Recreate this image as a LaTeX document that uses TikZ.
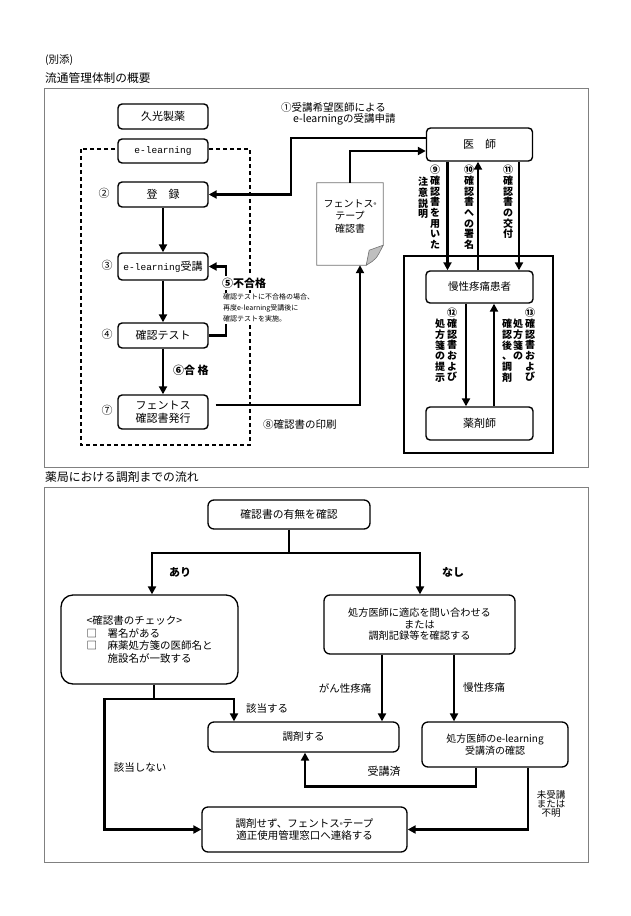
\documentclass[tikz,border=0pt]{standalone}
\usepackage{fontspec}
\setmainfont{Noto Sans CJK JP}
\newfontfamily\monof{Liberation Mono}
\usetikzlibrary{arrows.meta}
\newcommand{\fs}[2]{\fontsize{#1}{#2}\selectfont}
\newcommand{\regm}{{\fontsize{6}{6}\selectfont ®}}
\begin{document}
\begin{tikzpicture}[x=1pt,y=-1pt,
  box/.style={draw,line width=1.4pt,rounded corners=4pt,fill=white,inner sep=0pt,align=center,font=\fs{11}{12.5}},
  rbox/.style={draw,line width=1.3pt,rounded corners=6pt,fill=white,inner sep=0pt,align=center,font=\fs{10.5}{12}},
  conn/.style={line width=2.4pt},
  arr/.style={line width=2.4pt,-{Triangle[width=8pt,length=8pt]}},
  lbl/.style={inner sep=0pt,font=\fs{10.5}{12}},
  blbl/.style={inner sep=0pt,font=\bfseries\fs{11}{12}},
  num/.style={inner sep=0pt,font=\fs{11}{12}},
  vlbl/.style={inner sep=0pt,anchor=north,align=center,font=\bfseries\fs{10}{10.7}},
  frame/.style={draw=black!50,line width=1pt}]
\fill[white] (0,0) rectangle (630,916);
\useasboundingbox (0,0) rectangle (630,916);

% headers
\node[lbl,anchor=west,font=\fs{10.5}{12}] (h0) at (45,60) {(別添)};
\node[lbl,anchor=west,font=\fs{11.7}{13}] (h1) at (45,78) {流通管理体制の概要};
\node[lbl,anchor=west,font=\fs{11.8}{13}] (h2) at (45,477) {薬局における調剤までの流れ};

% frames
\draw[frame] (44,88) rectangle (588,467);
\draw[frame] (44,487) rectangle (588,862);

% dashed e-learning area and pharmacy area
\draw[line width=1.3pt,dash pattern=on 4pt off 3pt] (81,149) rectangle (250,445);
\draw[line width=1.4pt] (404,256) rectangle (553,453);

% ---------- top part ----------
\node[box,minimum width=90,minimum height=25] (kuko) at (163,116.5) {久光製薬};
\node[box,minimum width=90,minimum height=24] (elrn) at (163,151) {{\monof\fs{9.5}{11}e-learning}};
\node[box,minimum width=90,minimum height=25] (toroku) at (163,194.5) {登　録};
\node[box,minimum width=90,minimum height=27] (juko) at (163,266.5) {{\monof\fs{9.5}{11}e-learning}受講};
\node[box,minimum width=90,minimum height=25] (test) at (163,335.5) {確認テスト};
\node[box,minimum width=90,minimum height=34] (hakko) at (163,412) {フェントス\\確認書発行};
\node[box,minimum width=106,minimum height=33] (ishi) at (479.5,144.5) {医　師};
\node[box,minimum width=107,minimum height=32,font=\fs{10.5}{12}] (kanja) at (479.5,287) {慢性疼痛患者};
\node[box,minimum width=107,minimum height=33] (yaku) at (479.5,423.5) {薬剤師};

% loop connector (drawn before its label, which interrupts it)
\draw[arr] (test.east) -- ++(17,0) |- (juko.east);

% document shape
\node[inner sep=0pt,minimum width=66,minimum height=82] (doc) at (350,224) {};
\draw[draw=black!55,line width=0.8pt,fill=white] (doc.north west) -- (doc.north east)
  -- ([shift={(0,-20)}]doc.south east) -- ([shift={(-17,0)}]doc.south east) -- (doc.south west) -- cycle;
\draw[draw=black!55,line width=0.6pt,fill=black!25] ([shift={(0,-20)}]doc.south east)
  -- ([shift={(-14,-15)}]doc.south east) -- ([shift={(-17,0)}]doc.south east)
  .. controls ([shift={(-7,-6)}]doc.south east) .. ([shift={(0,-20)}]doc.south east);
\node[inner sep=0pt,align=center,font=\fs{10}{12.5}] (doctext) at (350,216.5) {フェントス\regm\\テープ\\確認書};

% numbers
\node[num] (n2) at (104,193) {②};
\node[num] (n3) at (107,265) {③};
\node[num] (n4) at (107,334) {④};
\node[num] (n7) at (107,410) {⑦};

% labels top
\node[lbl,anchor=west] (t1a) at (281,108) {①受講希望医師による};
\node[lbl,anchor=west] (t1b) at (293,119.5) {e-learningの受講申請};
\node[blbl,anchor=west,fill=white,inner ysep=2pt,inner xsep=1pt] (t5) at (221,283) {⑤不合格};
\node[inner sep=1pt,fill=white,anchor=north west,align=left,font=\fs{7}{11.2}] (t5s) at (222,292.5) {確認テストに不合格の場合、\\再度e-learning受講後に\\確認テストを実施。};
\node[blbl] (t6) at (191,370) {⑥合 格};
\node[lbl,anchor=west] (t8) at (263,425) {⑧確認書の印刷};

% vertical labels
\node[vlbl] (t9a) at (435,165) {⑨\\確\\認\\書\\を\\用\\い\\た};
\node[vlbl] (t9b) at (423,177) {注\\意\\説\\明};
\node[vlbl] (t10) at (469,165) {⑩\\確\\認\\書\\へ\\の\\署\\名};
\node[vlbl] (t11) at (508,165) {⑪\\確\\認\\書\\の\\交\\付};
\node[vlbl] (t12a) at (452,308) {⑫\\確\\認\\書\\お\\よ\\び};
\node[vlbl] (t12b) at (440,319) {処\\方\\箋\\の\\提\\示};
\node[vlbl] (t13a) at (530,308) {⑬\\確\\認\\書\\お\\よ\\び};
\node[vlbl] (t13b) at (518,319) {処\\方\\箋\\の};
\node[vlbl] (t13c) at (507,319) {確\\認\\後\\、\\調\\剤};

% connectors top
\draw[arr] (toroku.south) -- (juko.north);
\draw[arr] (juko.south) -- (test.north);
\draw[arr] (test.south) -- (hakko.north);
\draw[arr] ([shift={(7,-7)}]hakko.east) -| ([xshift=10pt]doc.south);
\draw[arr] (doc.north) |- ([shift={(0,6.5)}]ishi.west);
\draw[arr] ([shift={(0,-6.5)}]ishi.west) -| ([xshift=82pt]toroku.east) -- (toroku.east);
\draw[arr] ([xshift=-32pt]ishi.south) -- ([xshift=-32pt]kanja.north);
\draw[arr] ([xshift=-1.5pt]kanja.north) -- ([xshift=-1.5pt]ishi.south);
\draw[arr] ([xshift=39.5pt]ishi.south) -- ([xshift=39.5pt]kanja.north);
\draw[arr] ([xshift=-13.5pt]kanja.south) -- ([xshift=-13.5pt]yaku.north);
\draw[arr] ([xshift=14.5pt]yaku.north) -- ([xshift=14.5pt]kanja.south);

% ---------- bottom part ----------
\node[rbox,minimum width=162,minimum height=29,font=\fs{10.8}{12}] (umu) at (289,514.5) {確認書の有無を確認};
\node[rbox,rounded corners=12pt,minimum width=177,minimum height=89,align=left,font=\fs{10.5}{12.8}] (check) at (149.5,639.5)
  {<確認書のチェック>\\□　署名がある\\□　麻薬処方箋の医師名と\\　　施設名が一致する};
\node[rbox,minimum width=191,minimum height=59,font=\fs{10.2}{11.6}] (toi) at (419.5,624.5)
  {処方医師に適応を問い合わせる\\または\\調剤記録等を確認する};
\node[rbox,minimum width=191,minimum height=30] (chozai) at (303.5,737) {調剤する};
\node[rbox,minimum width=146,minimum height=45,font=\fs{10}{11.5}] (elc) at (495,744.5)
  {処方医師のe-learning\\受講済の確認};
\node[rbox,minimum width=205,minimum height=45,font=\fs{10.5}{12}] (sezu) at (304.5,829.5)
  {調剤せず、フェントス\regm テープ\\適正使用管理窓口へ連絡する};

% labels bottom
\node[blbl] (ari) at (180,572) {あり};
\node[blbl] (nashi) at (453,572) {なし};
\node[lbl] (gan) at (345,688) {がん性疼痛};
\node[lbl] (man) at (484,688) {慢性疼痛};
\node[lbl] (gai) at (267,709) {該当する};
\node[lbl] (gain) at (140,768) {該当しない};
\node[lbl,font=\fs{11}{12}] (jukozumi) at (384,771) {受講済};
\node[inner sep=0pt,align=center,font=\fs{9.5}{9}] (mijuko) at (551,804) {未受講\\または\\不明};

% connectors bottom
\coordinate (split) at (289,553);
\draw[conn] (umu.south) -- (split);
\draw[arr] (split) -| ([xshift=2.5pt]check.north);
\draw[arr] (split) -| ([xshift=0.5pt]toi.north);
\coordinate (g1) at ([xshift=-37.5pt]toi.south);
\coordinate (g2) at ([xshift=34.5pt]toi.south);
\draw[arr] (g1) -- (g1 |- chozai.north);
\draw[arr] (g2) -- (g2 |- elc.north);
\coordinate (jc) at (154,699);
\draw[conn] (check.south -| jc) -- (jc);
\draw[arr] (jc) -| ([xshift=-69.5pt]chozai.north);
\draw[arr] (jc) -| ([xshift=-97pt]sezu.west) -- (sezu.west);
\draw[arr] ([xshift=-19pt]elc.south) -- ++(0,19) -| ([xshift=1.5pt]chozai.south);
\draw[arr] ([xshift=33pt]elc.south) |- (sezu.east);
\end{tikzpicture}
\end{document}
